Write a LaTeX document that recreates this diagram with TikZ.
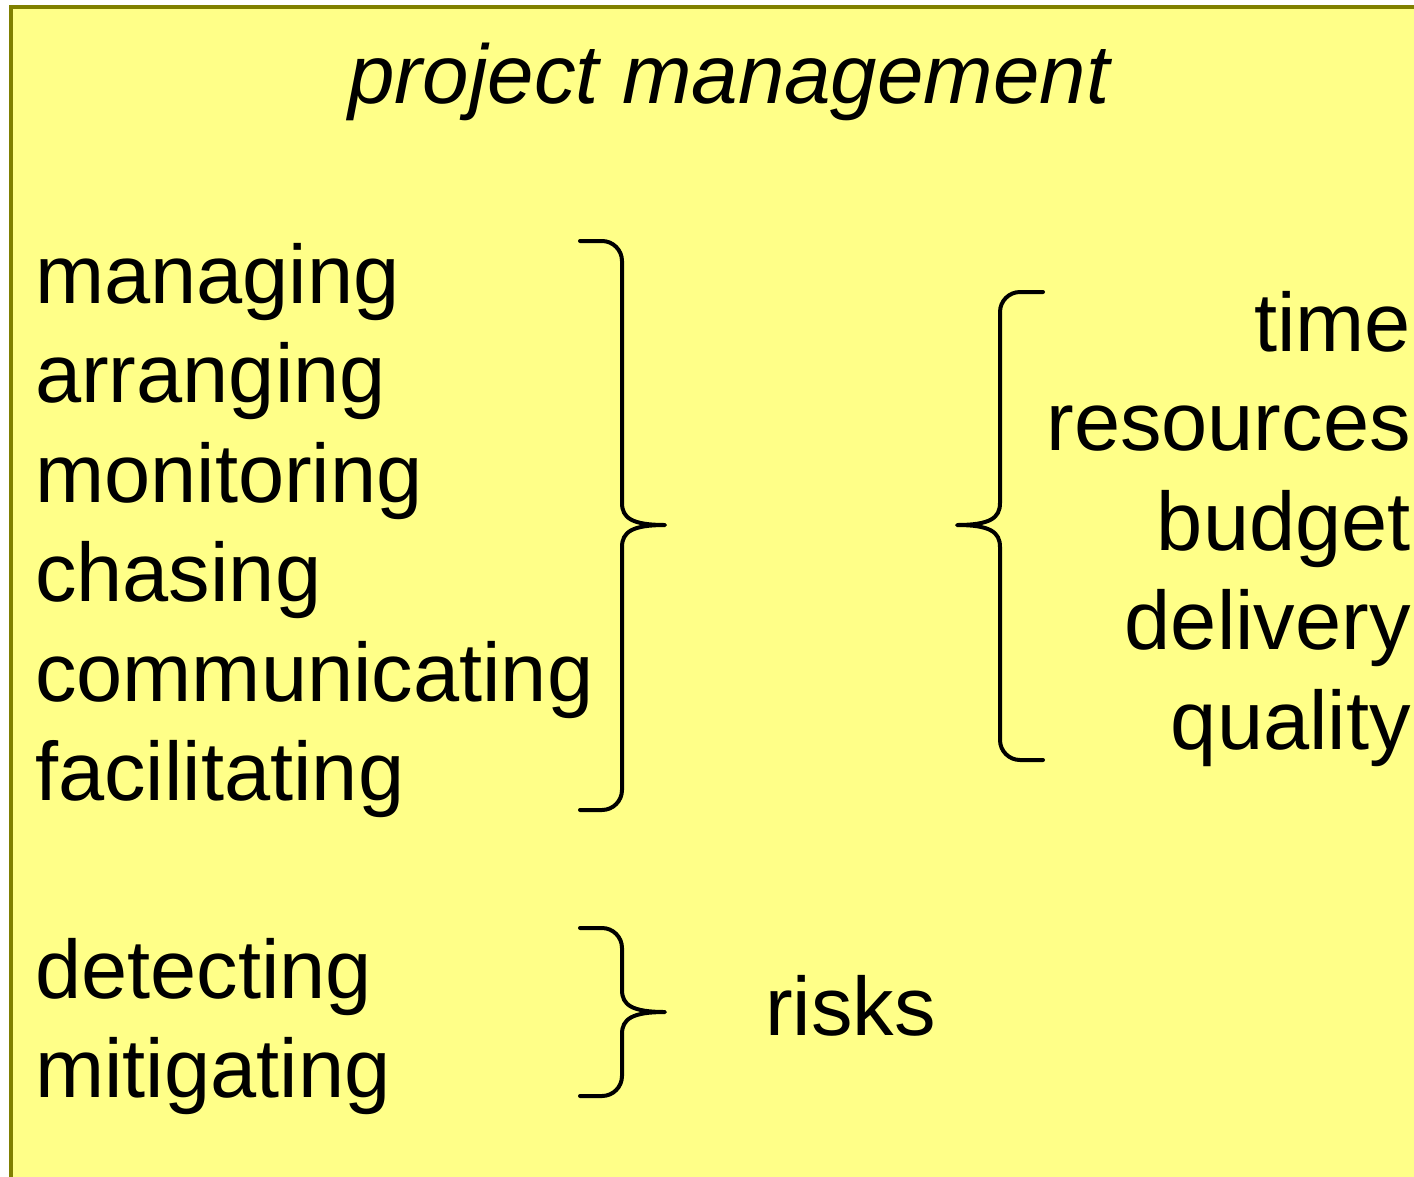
\documentclass[tikz,border=0pt]{standalone}
\usepackage{fontspec}
\setmainfont{Liberation Sans}
\definecolor{boxfill}{RGB}{255,255,136}
\definecolor{boxline}{RGB}{128,128,0}
\begin{document}
\begin{tikzpicture}[x=1pt,y=-1pt,
  word/.style={inner sep=0pt,font=\fontsize{83}{99}\selectfont},
  lword/.style={word,anchor=base west},
  rword/.style={word,anchor=base east},
  brace/.style={line width=4pt,line cap=round,line join=round}]
\useasboundingbox (0,0) rectangle (1414,1176);
\fill[white] (0,0) rectangle (1414,1176);
\draw[boxline,fill=boxfill,line width=4pt] (11,6.5) rectangle (1430,1190);
% title
\node[inner sep=0pt,anchor=base,font=\fontsize{83.5}{96}\selectfont\itshape] (title) at (729,103) {project management};
% left column
\node[lword] (managing) at (35,303) {managing};
\node[lword] (arranging) at (35,402.5) {arranging};
\node[lword] (monitoring) at (35,502) {monitoring};
\node[lword] (chasing) at (35,601.5) {chasing};
\node[lword] (communicating) at (35,701) {communicating};
\node[lword] (facilitating) at (35,800.5) {facilitating};
\node[lword] (detecting) at (35,998) {detecting};
\node[lword] (mitigating) at (35,1097.5) {mitigating};
% right column
\node[rword] (time) at (1411,351.5) {time};
\node[rword] (resources) at (1411,450.5) {resources};
\node[rword] (budget) at (1411,550) {budget};
\node[rword] (delivery) at (1411,649.5) {delivery};
\node[rword] (quality) at (1411,749) {quality};
\node[lword] (risks) at (765,1035) {risks};
% brace 1
\draw[brace] (580,241) -- (602,241) .. controls (613,241) and (622,250) .. (622,261)
  -- (622,503) .. controls (622,518) and (632,525) .. (665,525)
  .. controls (632,525) and (622,532) .. (622,547)
  -- (622,790) .. controls (622,801) and (613,810) .. (602,810) -- (580,810);
% brace 2
\draw[brace] (1043,292) -- (1020,292) .. controls (1009,292) and (1000,301) .. (1000,312)
  -- (1000,503) .. controls (1000,518) and (990,525) .. (957,525)
  .. controls (990,525) and (1000,532) .. (1000,547)
  -- (1000,740) .. controls (1000,751) and (1009,760) .. (1020,760) -- (1043,760);
% brace 3
\draw[brace] (580,928) -- (602,928) .. controls (613,928) and (622,937) .. (622,948)
  -- (622,990) .. controls (622,1005) and (632,1012) .. (665,1012)
  .. controls (632,1012) and (622,1019) .. (622,1034)
  -- (622,1076) .. controls (622,1087) and (613,1096) .. (602,1096) -- (580,1096);
\end{tikzpicture}
\end{document}
